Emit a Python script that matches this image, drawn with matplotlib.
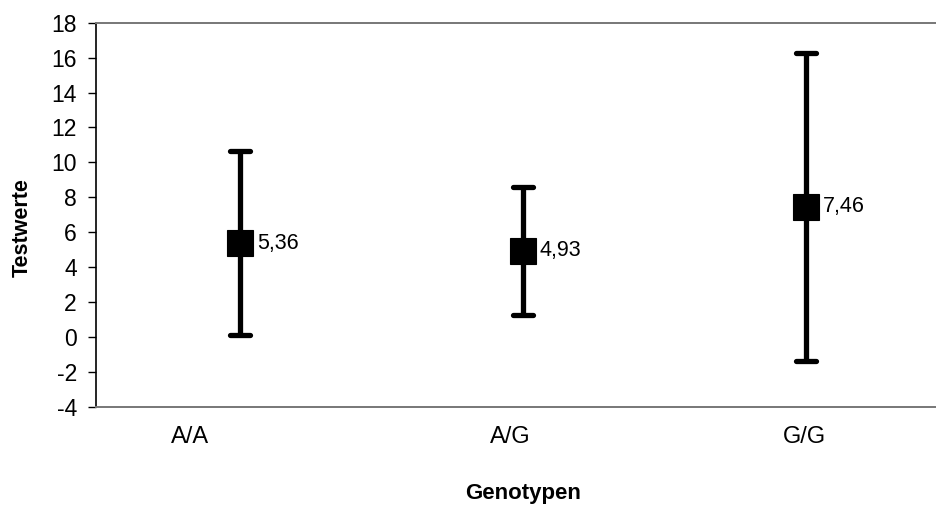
import matplotlib
matplotlib.use('Agg')
import matplotlib.pyplot as plt
from matplotlib.markers import MarkerStyle
from matplotlib.transforms import ScaledTranslation

plt.rcParams['font.family'] = ['Liberation Sans', 'DejaVu Sans']
plt.rcParams['axes.unicode_minus'] = False

genotypes = ['A/A', 'A/G', 'G/G']
means = [5.36, 4.93, 7.46]
sds = [5.27, 3.68, 8.82]
yticks = list(range(-4, 19, 2))

W, H = 937, 513
fig = plt.figure(figsize=(W / 100, H / 100), dpi=100)
ax = fig.add_axes([96 / W, 1 - 406.7 / H, (W - 96) / W, (406.7 - 22.7) / H])

x = list(range(len(genotypes)))
eb = ax.errorbar(x, means, yerr=sds, fmt='s', color='black', ms=18.5, mew=0.8,
                 elinewidth=3.8, capsize=7.2, zorder=3)
for cl in eb[1]:
    cl.set_marker(MarkerStyle('_', capstyle='round'))
    cl.set_markeredgewidth(3.8)
    cl.set_markersize(14.4)

# value labels, German decimal comma
for xi, m in zip(x, means):
    ax.annotate(f'{m:.2f}'.replace('.', ','), (xi, m), xytext=(12, 0),
                textcoords='offset points', ha='left', va='center', fontsize=15.5)

ax.set_xlim(-0.509, -0.509 + (W - 96) / 283)
ax.set_ylim(-4, 18)
ax.set_xticks(x)
ax.set_xticklabels(genotypes, fontsize=17)
ax.set_yticks(yticks)
ax.set_yticklabels([str(t) for t in yticks], fontsize=16.5)
ax.tick_params(axis='x', length=0, pad=14)
ax.tick_params(axis='y', length=5.8, width=1, pad=8, direction='out')

# category labels sit a bit left of the points in the original
label_shift_px = [-50, -13, -2]
for lbl, dx in zip(ax.get_xticklabels(), label_shift_px):
    lbl.set_transform(lbl.get_transform() + ScaledTranslation(dx / 100, 0, fig.dpi_scale_trans))

ax.spines['left'].set_color('black')
ax.spines['left'].set_linewidth(1.2)
for s in ['top', 'bottom']:
    ax.spines[s].set_color('#777777')
    ax.spines[s].set_linewidth(1.4)
ax.spines['right'].set_visible(False)

fig.text(22 / W, 1 - 228 / H, 'Testwerte', rotation=90, ha='center', va='center',
         fontsize=15.5, fontweight='bold')
fig.text(523 / W, 1 - 493 / H, 'Genotypen', ha='center', va='center',
         fontsize=16, fontweight='bold')

fig.savefig('out.png', dpi=100)
